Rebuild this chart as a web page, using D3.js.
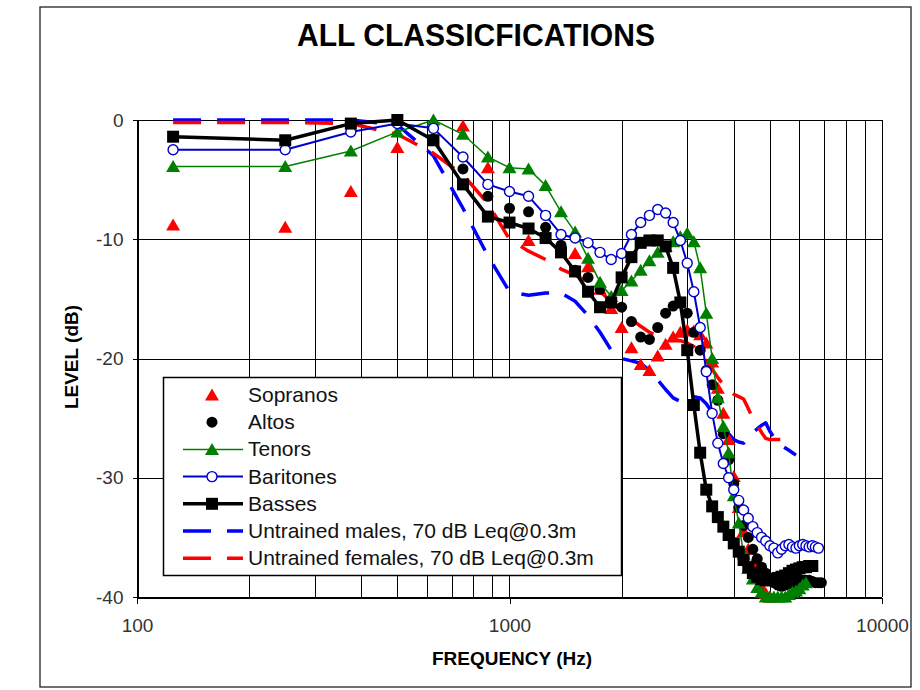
<!DOCTYPE html>
<html>
<head>
<meta charset="utf-8">
<script src="https://cdn.jsdelivr.net/npm/d3@7"></script>
<style>
  body { margin: 0; background: #fff; }
  svg text { font-family: Arial, "Liberation Sans", sans-serif; }
</style>
</head>
<body>
<svg id="chart" width="920" height="690"></svg>
<script>
// frequencies (Hz), one point every 125 Hz
var freqs = [125, 250, 375, 500, 625, 750, 875, 1000, 1125, 1250, 1375, 1500, 1625, 1750, 1875, 2000,
  2125, 2250, 2375, 2500, 2625, 2750, 2875, 3000, 3125, 3250, 3375, 3500, 3625, 3750, 3875, 4000,
  4125, 4250, 4375, 4500, 4625, 4750, 4875, 5000, 5125, 5250, 5375, 5500, 5625, 5750, 5875, 6000,
  6125, 6250, 6375, 6500, 6625, 6750, 6875, 7000];

// levels in dB, null where there is no point
var sopranos = [-8.8, -9.0, -6.0, -2.3, null, -0.5, -4.0, null, -10.1, null, null, -11.2, -12.3, -14.2, -15.8, -17.4,
  -19.1, -20.5, -21.0, -19.8, -18.8, -18.2, -17.8, -17.6, -17.7, -18.0, -18.7, -20.3, -22.5, -24.6, -26.8, -29.9,
  -32.5, -34.5, -36.0, -37.2, -38.3, -39.2, -39.7, -40.0, null, null, null, null, null, null, null, null,
  null, null, null, null, null, null, null, null];

var altos = [null, null, null, null, -1.6, -4.1, -6.4, -7.4, -7.7, -9.0, -10.5, -12.6, -13.2, -14.2, -15.2, -15.7,
  -16.9, -18.2, -18.4, -17.4, -16.2, -15.6, -15.3, -16.2, -17.8, -19.3, -21.0, -22.2, -23.5, -26.3, -28.5, -30.5,
  -32.5, -34.0, -35.0, -36.0, -36.8, -37.5, -38.0, -38.5, -38.8, -39.0, -39.1, -39.0, -38.9, -38.8, -38.7, -38.6,
  -38.6, -38.6, -38.6, -38.7, -38.8, -38.8, -38.8, null];

var tenors = [-3.9, -3.9, -2.6, -1.0, 0.0, -1.2, -3.1, -4.0, -4.1, -5.5, -7.7, -9.4, -11.6, -13.6, -14.8, -14.3,
  -13.5, -12.6, -11.8, -11.1, -10.6, -10.2, -9.8, -9.5, -10.2, -12.4, -16.2, -20.0, -23.3, -25.7, -27.9, -31.5,
  -33.8, -36.4, -37.6, -38.5, -39.2, -39.6, -40.0, -40.0, -40.0, -40.0, -40.0, -40.0, -39.8, -39.6, -39.5, -39.3,
  -39.0, -38.8, null, null, null, null, null, null];

var baritones = [-2.5, -2.5, -1.0, -0.3, -0.7, -3.1, -5.4, -6.0, -6.4, -8.0, -9.6, -9.9, -10.3, -11.1, -11.7, -11.2,
  -9.6, -8.6, -8.0, -7.5, -7.8, -8.6, -10.1, -12.0, -14.4, -17.4, -21.1, -24.6, -27.1, -28.8, -30.0, -31.0,
  -31.9, -32.7, -33.4, -34.1, -34.6, -35.0, -35.3, -35.7, -35.9, -36.3, -36.0, -35.7, -35.6, -35.8, -35.9, -35.7,
  -35.6, -35.7, -35.8, -35.7, -35.8, -35.9, null, null];

var basses = [-1.4, -1.7, -0.3, 0.0, -1.7, -5.4, -8.1, -8.6, -9.1, -9.9, -11.1, -12.7, -14.4, -15.7, -15.3, -13.2,
  -11.5, -10.3, -10.1, -10.1, -10.6, -12.4, -15.3, -19.3, -23.9, -27.9, -31.0, -32.4, -33.3, -34.1, -34.8, -35.5,
  -36.2, -36.9, -37.5, -38.0, -38.3, -38.5, -38.6, -38.6, -38.5, -38.4, -38.3, -38.2, -38.0, -37.8, -37.7, -37.6,
  -37.5, -37.5, -37.4, -37.4, null, null, null, null];

var untrainedMales = [0, 0, 0, -0.4, -3.0, -7.4, -11.4, -14.4, -14.7, -14.5, -14.5, -15.2, -16.4, -17.8, -19.3, -20.0,
  -20.2, -20.4, -21.0, -21.8, -22.6, -23.3, -23.6, -23.4, -23.2, -23.3, -23.8, -24.5, -25.1, -25.7, -26.3, -26.8,
  -27.0, -27.1, -26.6, -26.2, -25.9, -25.6, -25.4, -26.1, -26.6, -27.0, -27.3, -27.5, -27.7, -27.9, -28.1, null,
  null, null, null, null, null, null, null, null];

var untrainedFemales = [-0.2, -0.2, -0.3, -1.2, -2.8, -4.6, -7.0, -10.0, -11.0, -11.7, -12.5, -13.0, -13.6, -14.4, -15.2, -16.0,
  -16.7, -17.3, -17.8, -18.1, -18.3, -18.4, -18.5, -18.7, -19.0, -19.5, -20.2, -20.9, -21.6, -22.2, -22.7, -23.0,
  -23.2, -23.4, -24.2, -25.0, -25.6, -26.2, -26.7, -26.8, -26.8, -26.8, -26.8, -26.7, -26.7, -26.6, -26.6, null,
  null, null, null, null, null, null, null, null];

var xTickLabels = [100, 1000, 10000];
var yTickLabels = [0, -10, -20, -30, -40];

var svg = d3.select("#chart");

var x = d3.scaleLog().domain([100, 10000]).range([137, 882]);
var y = d3.scaleLinear().domain([-40, 0]).range([597, 120]);

// outer chart border
svg.append("rect")
  .attr("x", 40).attr("y", 7)
  .attr("width", 871).attr("height", 680)
  .attr("fill", "#fff")
  .attr("stroke", "#222")
  .attr("stroke-width", 1.3);

svg.append("text")
  .attr("x", 476).attr("y", 46)
  .attr("text-anchor", "middle")
  .attr("font-size", 32)
  .attr("font-weight", "bold")
  .attr("textLength", 358)
  .attr("lengthAdjust", "spacingAndGlyphs")
  .text("ALL CLASSICFICATIONS");

// grid
var grid = svg.append("g").attr("stroke", "#000").attr("stroke-width", 1).attr("shape-rendering", "crispEdges");
grid.selectAll(".vgrid")
  .data(x.ticks())
  .enter().append("line")
  .attr("x1", function(d) { return Math.round(x(d)) + 0.5; })
  .attr("x2", function(d) { return Math.round(x(d)) + 0.5; })
  .attr("y1", y(0)).attr("y2", y(-40));
grid.selectAll(".hgrid")
  .data(yTickLabels)
  .enter().append("line")
  .attr("x1", x(100)).attr("x2", x(10000))
  .attr("y1", function(d) { return Math.round(y(d)) + 0.5; })
  .attr("y2", function(d) { return Math.round(y(d)) + 0.5; });

// axes (plain hyphen for negatives, like the original)
var plain = function(d) { return String(d); };
var yAxis = svg.append("g")
  .attr("transform", "translate(" + (x(100) + 0.5) + ",0)")
  .call(d3.axisLeft(y).tickValues(yTickLabels).tickFormat(plain).tickSize(5).tickSizeOuter(0).tickPadding(9));
var xAxis = svg.append("g")
  .attr("transform", "translate(0," + (y(-40) + 0.5) + ")")
  .call(d3.axisBottom(x).tickValues(xTickLabels).tickFormat(plain).tickSize(6).tickSizeOuter(0).tickPadding(15));
[xAxis, yAxis].forEach(function(a) {
  a.selectAll("path, line").attr("stroke", "#000").attr("shape-rendering", "crispEdges");
  a.selectAll("text").attr("font-size", 19).attr("fill", "#333").style("font-family", "Arial, 'Liberation Sans', sans-serif");
});

svg.append("text")
  .attr("x", 512).attr("y", 665)
  .attr("text-anchor", "middle")
  .attr("font-size", 19).attr("font-weight", "bold")
  .text("FREQUENCY (Hz)");
svg.append("text")
  .attr("transform", "translate(78,357) rotate(-90)")
  .attr("text-anchor", "middle")
  .attr("font-size", 19).attr("font-weight", "bold")
  .text("LEVEL (dB)");

// marker shapes
function markerPath(type) {
  if (type == "triangle") return "M0,-6.5L7,5.5L-7,5.5Z";
  if (type == "square") return "M-6,-6h12v12h-12Z";
  return null;
}

var series = [
  { name: "Sopranos", values: sopranos, color: "#ff0000", line: 0, marker: "triangle", fill: "#ff0000" },
  { name: "Altos", values: altos, color: "#000", line: 0, marker: "dot", fill: "#000" },
  { name: "Tenors", values: tenors, color: "#008000", line: 1.5, marker: "triangle", fill: "#008000" },
  { name: "Baritones", values: baritones, color: "#0000cc", line: 2, marker: "circle", fill: "#fff" },
  { name: "Basses", values: basses, color: "#000", line: 3.5, marker: "square", fill: "#000" },
  { name: "Untrained males, 70 dB Leq@0.3m", values: untrainedMales, color: "#0000ff", line: 3.5, dash: "28,16" },
  { name: "Untrained females, 70 dB Leq@0.3m", values: untrainedFemales, color: "#ff0000", line: 3.5, dash: "28,16" }
];

series.forEach(function(s) {
  s.points = freqs.map(function(f, i) { return { f: f, v: s.values[i] }; })
    .filter(function(d) { return d.v !== null; });
});

var line = d3.line()
  .x(function(d) { return x(d.f); })
  .y(function(d) { return y(d.v); });

function drawMarkers(g, s, pts) {
  if (s.marker == "circle" || s.marker == "dot") {
    g.selectAll("circle").data(pts).enter().append("circle")
      .attr("cx", function(d) { return x(d.f); })
      .attr("cy", function(d) { return y(d.v); })
      .attr("r", s.marker == "dot" ? 5.5 : 5)
      .attr("fill", s.fill)
      .attr("stroke", s.marker == "dot" ? "none" : s.color)
      .attr("stroke-width", 1.4);
  } else if (s.marker) {
    g.selectAll("path.mk").data(pts).enter().append("path")
      .attr("class", "mk")
      .attr("d", markerPath(s.marker))
      .attr("transform", function(d) { return "translate(" + x(d.f) + "," + y(d.v) + ")"; })
      .attr("fill", s.fill);
  }
}

// dashed lines go underneath the singer data
var order = [5, 6, 0, 1, 2, 3, 4];
order.forEach(function(k) {
  var s = series[k];
  var g = svg.append("g");
  if (s.line) {
    g.append("path")
      .datum(s.points)
      .attr("d", line)
      .attr("fill", "none")
      .attr("stroke", s.color)
      .attr("stroke-width", s.line)
      .attr("stroke-dasharray", s.dash || null)
      .attr("stroke-linejoin", "round");
  }
  drawMarkers(g, s, s.points);
});

// legend
var legend = svg.append("g");
legend.append("rect")
  .attr("x", 163.5).attr("y", 377.5)
  .attr("width", 458).attr("height", 198)
  .attr("fill", "#fff")
  .attr("stroke", "#000")
  .attr("stroke-width", 1.5);

var item = legend.selectAll(".item")
  .data(series)
  .enter().append("g")
  .attr("transform", function(d, i) { return "translate(0," + (402 + i * 27.2) + ")"; });

item.each(function(s) {
  var g = d3.select(this);
  if (s.line) {
    g.append("line")
      .attr("x1", 183).attr("x2", 243)
      .attr("y1", -7).attr("y2", -7)
      .attr("stroke", s.color)
      .attr("stroke-width", s.line)
      .attr("stroke-dasharray", s.dash || null);
  }
  var mg = g.append("g").attr("transform", "translate(212,-7)");
  if (s.marker == "circle" || s.marker == "dot") {
    mg.append("circle").attr("r", s.marker == "dot" ? 5.5 : 5)
      .attr("fill", s.fill)
      .attr("stroke", s.marker == "dot" ? "none" : s.color)
      .attr("stroke-width", 1.4);
  } else if (s.marker) {
    mg.append("path").attr("d", markerPath(s.marker)).attr("fill", s.fill);
  }
  g.append("text")
    .attr("x", 248).attr("y", 0)
    .attr("font-size", 21)
    .attr("fill", "#111")
    .text(s.name);
});
</script>
</body>
</html>
